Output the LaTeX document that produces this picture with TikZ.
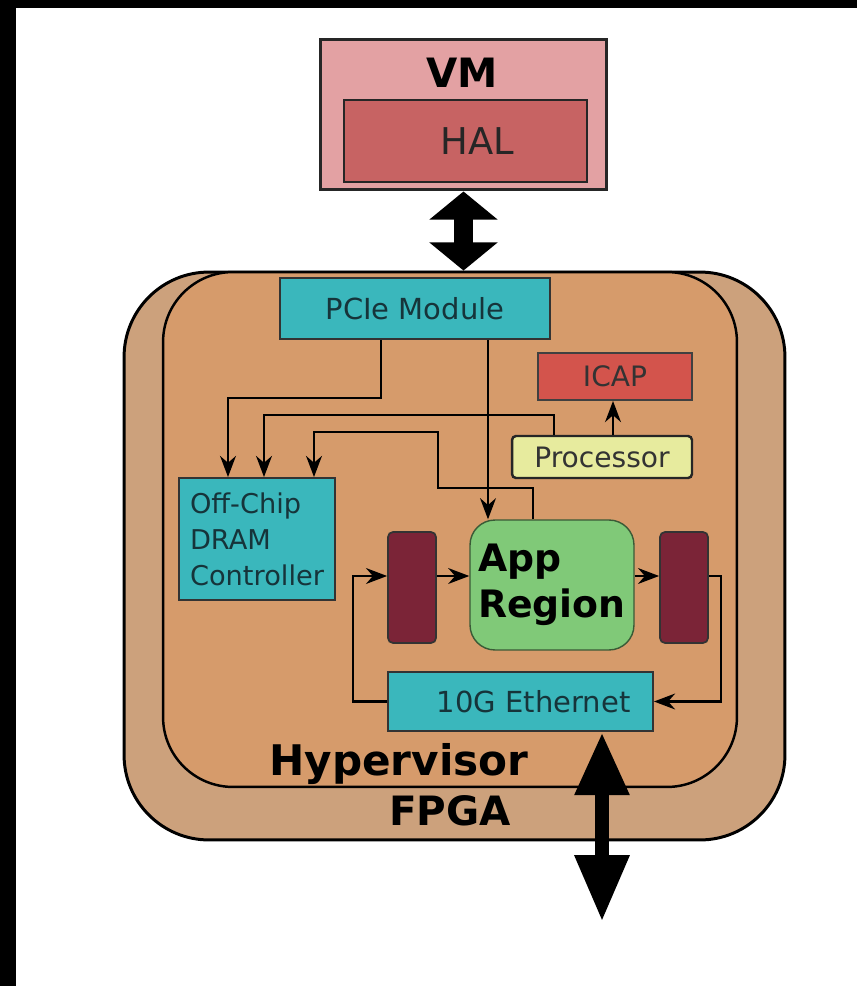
\documentclass[tikz,border=0pt]{standalone}
\usepackage{fontspec}
\setmainfont{DejaVu Sans}
\usetikzlibrary{arrows.meta}

\definecolor{hostpink}{RGB}{227,161,163}
\definecolor{halred}{RGB}{199,99,99}
\definecolor{fpgatan}{RGB}{204,161,124}
\definecolor{hvtan}{RGB}{214,155,107}
\definecolor{modteal}{RGB}{58,183,188}
\definecolor{icapred}{RGB}{211,84,76}
\definecolor{procyel}{RGB}{231,235,158}
\definecolor{appgreen}{RGB}{128,201,120}
\definecolor{bufwine}{RGB}{123,36,55}
\definecolor{tealtext}{RGB}{22,52,58}

\tikzset{
  host/.style={
    rectangle,
    minimum width=5.74cm,
    minimum height=3.02cm,
    draw=black!85,
    line width=1.7pt,
    fill=hostpink
  },
  halbox/.style={
    rectangle,
    minimum width=4.86cm,
    minimum height=1.64cm,
    text width=1.94cm,
    align=right,
    draw=black!85,
    line width=1.4pt,
    fill=halred,
    text=black!85,
    font=\fontsize{21}{25}\selectfont
  },
  fpgabox/.style={
    rectangle,
    rounded corners=1.7cm,
    minimum width=13.22cm,
    minimum height=11.36cm,
    draw=black,
    line width=1.7pt,
    fill=fpgatan
  },
  hvbox/.style={
    rectangle,
    rounded corners=1.4cm,
    minimum width=11.48cm,
    minimum height=10.3cm,
    draw=black,
    line width=1.4pt,
    fill=hvtan
  },
  module/.style={
    rectangle,
    minimum width=5.4cm,
    minimum height=1.22cm,
    draw=black!80,
    line width=1.1pt,
    fill=modteal,
    text=tealtext,
    font=\fontsize{16.5}{19}\selectfont
  },
  icapbox/.style={
    rectangle,
    minimum width=3.08cm,
    minimum height=0.94cm,
    draw=black!75,
    line width=1.1pt,
    fill=icapred,
    text=black!80,
    font=\fontsize{16}{19}\selectfont
  },
  procbox/.style={
    rectangle,
    rounded corners=0.08cm,
    minimum width=3.6cm,
    minimum height=0.84cm,
    draw=black!85,
    line width=1.4pt,
    fill=procyel,
    text=black!80,
    font=\fontsize{16}{19}\selectfont
  },
  appbox/.style={
    rectangle,
    rounded corners=0.5cm,
    minimum width=3.28cm,
    minimum height=2.6cm,
    draw=appgreen!45!black,
    line width=0.8pt,
    fill=appgreen,
    align=left,
    font=\fontsize{21.5}{26.5}\selectfont\bfseries
  },
  bufbox/.style={
    rectangle,
    rounded corners=0.1cm,
    minimum width=0.96cm,
    minimum height=2.22cm,
    draw=black!80,
    line width=1pt,
    fill=bufwine
  },
  layer/.style={
    font=\fontsize{24}{28}\selectfont\bfseries
  },
  link/.style={line width=1.5pt, -{Stealth[length=12pt,width=9pt]}},
  bigarrow/.style={black}
}

\begin{document}
\begin{tikzpicture}[x=0.02cm, y=-0.02cm]
    \useasboundingbox (0,0) rectangle (857,986);
    \fill[white] (0,0) rectangle (857,986);
    \fill[black] (0,0) rectangle (16,986);
    \fill[black] (0,0) rectangle (857,8);

    \node (fpga) [fpgabox] at (454.5,556) {};
    \node (hv) [hvbox] at (450,529.5) {};

    \node (vm) [host] at (463.5,114.5) {};
    \node (vmtext) [layer, font=\fontsize{23}{28}\selectfont\bfseries] at (462,73) {VM};
    \node (hal) [halbox] at (465.5,141) {HAL};

    \node (pcie) [module] at (415,308.5) {PCIe Module};
    \node (icap) [icapbox] at (615,376.5) {ICAP};
    \node (proc) [procbox] at (602,457) {Processor};
    \node (dram) [module, minimum width=3.12cm, minimum height=2.44cm, align=left,
      font=\fontsize{15.5}{20.5}\selectfont] at (257,539) {Off-Chip\\DRAM\\Controller};
    \node (bufl) [bufbox] at (412,587.5) {};
    \node (app) [appbox] at (552,585) {App\\Region};
    \node (bufr) [bufbox] at (684,587.5) {};
    \node (eth) [module, minimum width=5.3cm, minimum height=1.18cm, text width=4.4cm,
      align=right] at (520.5,701.5) {10G Ethernet};

    \node (hvtext) [layer, anchor=base] at (399,775) {Hypervisor};
    \node (fpgatext) [layer, anchor=base, font=\fontsize{23}{28}\selectfont\bfseries] at (450,825) {FPGA};

    \draw[link] (pcie.south -| 381,0) |- (228,398) -- (dram.north -| 228,0);
    \draw[link] (proc.north -| 554,0) |- (264,415) -- (dram.north -| 264,0);
    \draw[link] (app.north -| 533,0) |- (438,488) |- (314,432) -- (dram.north -| 314,0);
    \draw[link] (pcie.south -| 488,0) -- (app.north -| 488,0);
    \draw[link] (proc.north -| 613,0) -- (icap.south -| 613,0);
    \draw[link] (eth.west) -| (353,576) -- (bufl.west |- 0,576);
    \draw[link] (bufl.east |- 0,576) -- (app.west |- 0,576);
    \draw[link] (app.east |- 0,576) -- (bufr.west |- 0,576);
    \draw[link] (bufr.east |- 0,576) -| (721,701.5) -- (eth.east);

    \draw[bigarrow, line width=10.5pt,
      {Triangle[length=16pt,width=38pt]}-{Triangle[length=16pt,width=38pt]}]
      (vm.south) -- (vm.south |- fpga.north);
    \coordinate (wan) at (602,922);
    \draw[bigarrow, line width=8.5pt,
      {Triangle[length=36pt,width=29pt]}-{Triangle[length=38pt,width=29pt]}]
      (wan |- eth.south) -- (wan);
\end{tikzpicture}
\end{document}
